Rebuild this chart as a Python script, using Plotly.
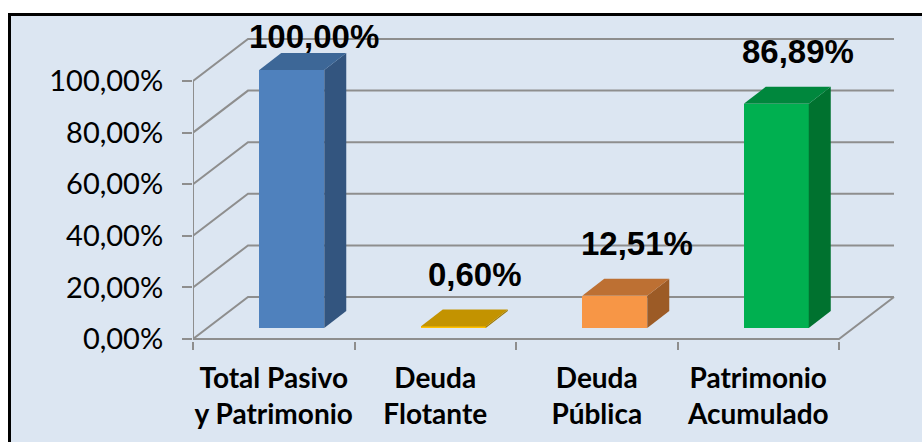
import plotly.graph_objects as go

# ---- data ----
categories = ["Total Pasivo<br>y Patrimonio", "Deuda<br>Flotante", "Deuda<br>Pública", "Patrimonio<br>Acumulado"]
values = [100.00, 0.60, 12.51, 86.89]
value_labels = ["100,00%", "0,60%", "12,51%", "86,89%"]
y_tick_vals = [0, 20, 40, 60, 80, 100]
y_tick_text = ["0,00%", "20,00%", "40,00%", "60,00%", "80,00%", "100,00%"]

# ---- styles ----
front_colors = ["#4F81BD", "#FFC000", "#F79646", "#00B050"]
top_colors = ["#3D6797", "#C39300", "#BD7033", "#00873D"]
side_colors = ["#33557F", "#9E7800", "#9C5B26", "#00722F"]
grid_color = "#8E8E8E"
bg = "#DCE6F2"

# layout geometry (pixels)
W, H = 922, 442
L, R, T, B = 193, 22, 14, 101
plot_w = W - L - R
plot_h = H - T - B
ppx = 161.5          # pixels per category
ppy = 2.58           # pixels per percent
zero_px = 339        # pixel row of 0 %
x0 = -0.5
x1 = x0 + plot_w / ppx
y0 = -((H - B) - zero_px) / ppy
y1 = y0 + plot_h / ppy

# 3D projection offsets (data units)
DX = 55 / ppx        # wall depth in x
DY = 42 / ppy        # wall depth in y
bar_dx = 22 / ppx    # bar depth in x
bar_dy = 17 / ppy    # bar depth in y
bar_off_x = 18 / ppx
bar_base = 11 / ppy
bar_w = 65 / ppx

n = len(categories)
xs = list(range(n))
left_edge = xs[0] - 0.5
right_edge = xs[-1] + 0.5

fig = go.Figure()

# front faces
fig.add_trace(go.Bar(
    x=[x + bar_off_x for x in xs], y=values, base=[bar_base] * n, width=bar_w,
    marker=dict(color=front_colors, line=dict(width=0)), hoverinfo="skip", showlegend=False,
))

# top and side faces
for x, v, tc, sc in zip(xs, values, top_colors, side_colors):
    xl = x + bar_off_x - bar_w / 2
    xr = x + bar_off_x + bar_w / 2
    top = bar_base + v
    fig.add_trace(go.Scatter(
        x=[xr, xr + bar_dx, xr + bar_dx, xr, xr],
        y=[bar_base, bar_base + bar_dy, top + bar_dy, top, bar_base],
        fill="toself", fillcolor=sc, mode="lines", line=dict(width=0),
        hoverinfo="skip", showlegend=False))
    fig.add_trace(go.Scatter(
        x=[xl, xr, xr + bar_dx, xl + bar_dx, xl],
        y=[top, top, top + bar_dy, top + bar_dy, top],
        fill="toself", fillcolor=tc, mode="lines", line=dict(width=0),
        hoverinfo="skip", showlegend=False))

def px_to_paper_x(p):
    return (p - L) / plot_w

def px_to_paper_y(p):
    return ((H - B) - p) / plot_h

shapes = []
# chart border / background
shapes.append(dict(type="rect", xref="paper", yref="paper", layer="below",
                    x0=px_to_paper_x(9.5), x1=px_to_paper_x(W + 30),
                    y0=px_to_paper_y(H + 30), y1=px_to_paper_y(14.5),
                    fillcolor=bg, line=dict(color="black", width=3)))
# back wall gridlines
line = dict(color=grid_color, width=2)
for v in y_tick_vals:
    shapes.append(dict(type="path", xref="x", yref="y", layer="below",
                       path=f"M{left_edge},{v} L{left_edge + DX},{v + DY} L{right_edge + DX},{v + DY}",
                       line=line))
# floor
shapes.append(dict(type="path", xref="x", yref="y", layer="below",
                   path=f"M{left_edge},0 L{right_edge},0 L{right_edge + DX},{DY}", line=line))
# vertical axis line
shapes.append(dict(type="line", xref="x", yref="y", layer="below",
                   x0=left_edge, x1=left_edge, y0=0, y1=y_tick_vals[-1], line=line))

annotations = []
label_max = (zero_px - 57) / ppy
for x, v, t in zip(xs, values, value_labels):
    annotations.append(dict(x=x + 40 / ppx, y=min(v + 16.5, label_max), text=t, showarrow=False,
                            xanchor="center", yanchor="bottom",
                            font=dict(family="Liberation Sans", size=33, color="black", weight="bold")))

fig.update_layout(
    width=W, height=H, margin=dict(l=L, r=R, t=T, b=B, pad=0, autoexpand=False),
    paper_bgcolor="white", plot_bgcolor="rgba(0,0,0,0)",
    shapes=shapes, annotations=annotations, showlegend=False, bargap=0,
    xaxis=dict(range=[x0, x1], tickvals=xs, ticktext=categories, ticks="", automargin=False,
               showgrid=False, zeroline=False, showline=False, fixedrange=True,
               tickfont=dict(family="Lato", size=28, color="black", weight="bold"),
               ticklabelstandoff=18,
               minor=dict(tickvals=[x - 0.5 for x in xs] + [right_edge], ticks="outside",
                          ticklen=8, tickwidth=2, tickcolor=grid_color, showgrid=False)),
    yaxis=dict(range=[y0, y1], tickvals=y_tick_vals, ticktext=y_tick_text, ticks="outside",
               ticklen=10, tickwidth=2, tickcolor=grid_color, showgrid=False, zeroline=False,
               showline=False, fixedrange=True, ticklabelstandoff=13, automargin=False,
               tickfont=dict(family="Lato", size=29, color="black")),
)

fig.write_html("out.html", config={"displayModeBar": False, "staticPlot": True},
               post_script="document.body.style.margin='0';document.body.style.overflow='hidden';")
